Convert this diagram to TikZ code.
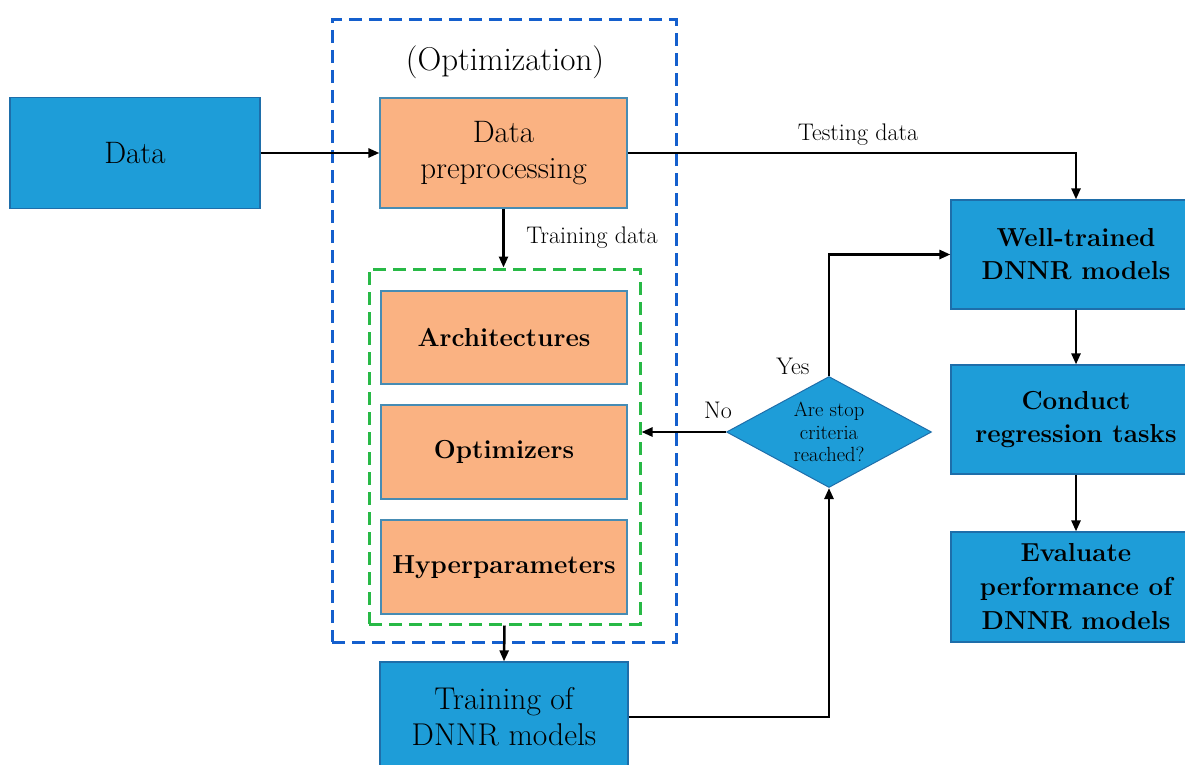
\documentclass[tikz,border=0pt]{standalone}
\usetikzlibrary{arrows.meta,shapes.geometric}
\definecolor{boxblue}{RGB}{30,157,216}
\definecolor{boxblueedge}{RGB}{30,110,170}
\definecolor{boxorange}{RGB}{250,178,130}
\definecolor{orangeedge}{RGB}{70,140,180}
\definecolor{optblue}{RGB}{20,95,205}
\definecolor{loopgreen}{RGB}{40,185,70}
\tikzset{
  bluebox/.style={rectangle, draw=boxblueedge, line width=1.2pt, fill=boxblue,
    align=center, inner sep=0pt},
  orangebox/.style={rectangle, draw=orangeedge, line width=1.2pt, fill=boxorange,
    align=center, inner sep=0pt},
  regtext/.style={font=\fontsize{31}{36}\selectfont},
  boldtext/.style={font=\fontsize{26}{33}\selectfont\bfseries},
  smalltext/.style={font=\fontsize{24}{26}\selectfont},
  flow/.style={draw=black, line width=2.5pt,
    -{Triangle[length=11pt,width=9pt]}},
  dashframe/.style={rectangle, line width=3pt, dash pattern=on 13pt off 7pt},
}
\begin{document}
\begin{tikzpicture}[x=1pt,y=-1pt]
\clip (0,0) rectangle (1185,765);
\useasboundingbox (0,0) rectangle (1185,765);

% optimization frame and inner loop frame
\node[dashframe, draw=optblue, minimum width=344pt, minimum height=622pt] (optframe) at (504,331) {};
\node[font=\fontsize{33}{36}\selectfont] (opttitle) at (505,62) {(Optimization)};
\node[dashframe, draw=loopgreen, minimum width=271pt, minimum height=355pt] (loop) at (504.5,446.5) {};

% left column
\node[bluebox, regtext, minimum width=250pt, minimum height=111pt] (data) at (135,153) {Data};
\node[orangebox, regtext, minimum width=247pt, minimum height=110pt] (prep) at (503.5,153) {Data\\preprocessing};
\node[orangebox, boldtext, minimum width=246pt, minimum height=93pt] (arch) at (504,337.5) {Architectures};
\node[orangebox, boldtext, minimum width=246pt, minimum height=94pt] (opt) at (504,452) {Optimizers};
\node[orangebox, boldtext, minimum width=246pt, minimum height=94pt] (hyp) at (504,567) {Hyperparameters};
\node[bluebox, font=\fontsize{31.5}{36}\selectfont, minimum width=248pt, minimum height=110pt] (train) at (504,717) {Training of\\DNNR models};

% decision
\node[diamond, draw=boxblueedge, line width=1pt, fill=boxblue, aspect=1.85,
      minimum width=205pt, minimum height=111pt, inner sep=0pt, align=center,
      font=\fontsize{20.5}{22.5}\selectfont] (stop) at (829,432) {Are stop\\criteria\\reached?};

% right column
\node[bluebox, boldtext, minimum width=250pt, minimum height=109pt] (well) at (1076,254.5) {Well-trained\\DNNR models};
\node[bluebox, boldtext, minimum width=250pt, minimum height=109pt] (cond) at (1076,419.5) {Conduct\\regression tasks};
\node[bluebox, minimum width=250pt, minimum height=110pt, font=\fontsize{26}{34}\selectfont\bfseries] (eval) at (1076,587) {Evaluate\\performance of\\DNNR models};

% connectors
\draw[flow] (data.east) -- (prep.west);
\draw[flow] (prep.south) -- (prep.south |- loop.north);
\node[smalltext] (trainlbl) at (592,238) {Training data};
\draw[flow] (loop.south) -- (train.north);
\draw[flow] (train.east) -| (stop.south);
\draw[flow] (stop.west) -- (stop.west -| loop.east);
\node[smalltext] (nolbl) at (718,410) {No};
\draw[flow] (stop.north) |- (well.west);
\node[smalltext] (yeslbl) at (793,366) {Yes};
\draw[flow] (prep.east) -| (well.north);
\node[smalltext] (testlbl) at (858,135) {Testing data};
\draw[flow] (well.south) -- (cond.north);
\draw[flow] (cond.south) -- (eval.north);
\end{tikzpicture}
\end{document}
